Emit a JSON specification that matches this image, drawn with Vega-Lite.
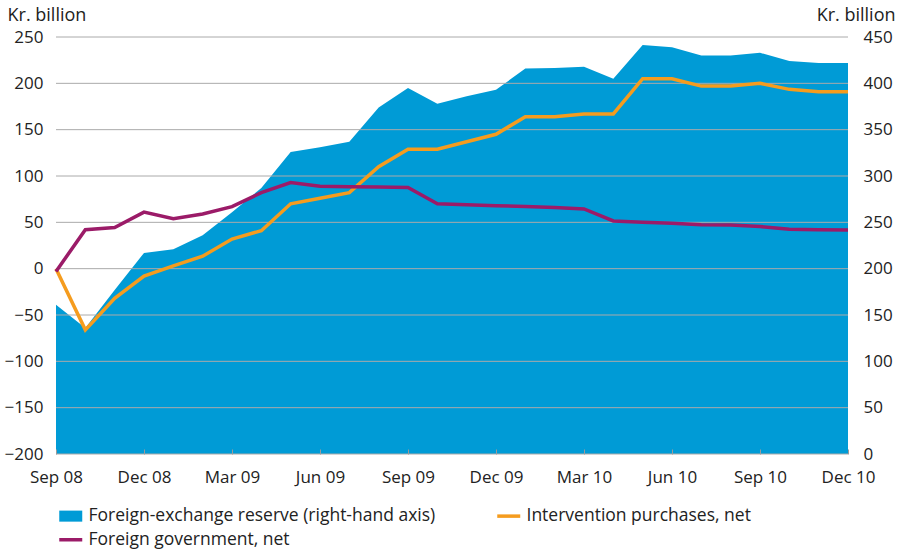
{
  "$schema": "https://vega.github.io/schema/vega-lite/v6.json",
  "width": 792,
  "height": 417,
  "autosize": "none",
  "padding": {"left": 56, "top": 37, "right": 51, "bottom": 97},
  "background": "white",
  "config": {
    "view": {"stroke": null},
    "font": "Open Sans",
    "axis": {"labelFont": "Open Sans", "titleFont": "Open Sans", "labelColor": "#222222", "titleColor": "#222222", "labelFontSize": 17, "titleFontSize": 18, "titleFontWeight": "normal"},
    "legend": {"labelFont": "Open Sans", "labelColor": "#222222", "labelFontSize": 17.5}
  },
  "data": {"values": [
    {"month": "Sep 08", "reserve": 161, "intervention": 0, "government": -3},
    {"month": "Oct 08", "reserve": 136, "intervention": -66, "government": 42},
    {"month": "Nov 08", "reserve": 177, "intervention": -32, "government": 44.5},
    {"month": "Dec 08", "reserve": 217, "intervention": -8, "government": 61},
    {"month": "Jan 09", "reserve": 221, "intervention": 3, "government": 54},
    {"month": "Feb 09", "reserve": 236, "intervention": 13.5, "government": 59},
    {"month": "Mar 09", "reserve": 261, "intervention": 32, "government": 67},
    {"month": "Apr 09", "reserve": 287, "intervention": 41, "government": 82},
    {"month": "May 09", "reserve": 326, "intervention": 70, "government": 93},
    {"month": "Jun 09", "reserve": 331, "intervention": 76, "government": 89},
    {"month": "Jul 09", "reserve": 337, "intervention": 82, "government": 88.5},
    {"month": "Aug 09", "reserve": 374, "intervention": 110, "government": 88},
    {"month": "Sep 09", "reserve": 395, "intervention": 129, "government": 87.5},
    {"month": "Oct 09", "reserve": 378, "intervention": 129, "government": 70},
    {"month": "Nov 09", "reserve": 386, "intervention": 137, "government": 69},
    {"month": "Dec 09", "reserve": 393, "intervention": 145, "government": 68},
    {"month": "Jan 10", "reserve": 416, "intervention": 164, "government": 67},
    {"month": "Feb 10", "reserve": 416.5, "intervention": 164, "government": 66},
    {"month": "Mar 10", "reserve": 418, "intervention": 167, "government": 64.5},
    {"month": "Apr 10", "reserve": 405, "intervention": 167, "government": 51.5},
    {"month": "May 10", "reserve": 441.5, "intervention": 205, "government": 50},
    {"month": "Jun 10", "reserve": 439, "intervention": 205, "government": 49},
    {"month": "Jul 10", "reserve": 430, "intervention": 197, "government": 47.5},
    {"month": "Aug 10", "reserve": 430, "intervention": 197, "government": 47},
    {"month": "Sep 10", "reserve": 433, "intervention": 200, "government": 45.5},
    {"month": "Oct 10", "reserve": 424, "intervention": 193.5, "government": 42.5},
    {"month": "Nov 10", "reserve": 422, "intervention": 191, "government": 42},
    {"month": "Dec 10", "reserve": 422, "intervention": 191, "government": 41.7}
  ]},
  "encoding": {
    "x": {
      "field": "month", "type": "ordinal", "sort": null,
      "scale": {"type": "point", "padding": 0},
      "axis": {
        "title": null, "labelAngle": 0, "domain": false, "grid": false,
        "values": ["Sep 08", "Dec 08", "Mar 09", "Jun 09", "Sep 09", "Dec 09", "Mar 10", "Jun 10", "Sep 10", "Dec 10"],
        "tickSize": -5, "tickColor": "#9a9a9a", "tickWidth": 1, "zindex": 1, "labelPadding": 20
      }
    }
  },
  "layer": [
    {
      "mark": {"type": "area", "opacity": 1, "interpolate": "linear"},
      "encoding": {
        "y": {
          "field": "reserve", "type": "quantitative",
          "scale": {"domain": [0, 450], "nice": false, "zero": true},
          "axis": {
            "orient": "right", "values": [0, 50, 100, 150, 200, 250, 300, 350, 400, 450],
            "grid": false, "domain": false, "ticks": false, "labelPadding": 15,
            "title": "Kr. billion", "titleAngle": 0, "titleX": 47, "titleY": -17,
            "titleAlign": "right", "titleBaseline": "alphabetic"
          }
        },
        "color": {
          "datum": "Foreign-exchange reserve (right-hand axis)",
          "scale": {
            "domain": ["Foreign-exchange reserve (right-hand axis)", "Foreign government, net", "Intervention purchases, net"],
            "range": ["#009bd6", "#9b1b68", "#f59c1e"]
          },
          "legend": {
            "title": null, "orient": "none", "legendX": 6, "legendY": 470, "columns": 2,
            "columnPadding": 54, "rowPadding": 5, "symbolSize": 529, "labelOffset": 9, "labelLimit": 0,
            "symbolOpacity": 1,
            "symbolType": {"expr": "datum.value === 'Foreign-exchange reserve (right-hand axis)' ? 'M-1,-0.48H1V0.48H-1Z' : 'stroke'"},
            "symbolStrokeWidth": {"expr": "datum.value === 'Foreign-exchange reserve (right-hand axis)' ? 0 : 3.5"},
            "symbolStrokeColor": {"expr": "scale('color', datum.value)"}
          }
        }
      }
    },
    {
      "layer": [
        {
          "data": {"values": [{"v": -200}, {"v": -150}, {"v": -100}, {"v": -50}, {"v": 0}, {"v": 50}, {"v": 100}, {"v": 150}, {"v": 200}, {"v": 250}]},
          "mark": {"type": "rule", "color": "#aaaaaa", "strokeWidth": 1},
          "encoding": {"y": {"field": "v", "type": "quantitative"}, "x": null}
        },
        {
          "mark": {"type": "line", "strokeWidth": 3.5, "color": "#f59c1e"},
          "encoding": {
            "y": {"field": "intervention", "type": "quantitative"}
          }
        },
        {
          "mark": {"type": "line", "strokeWidth": 3.5, "color": "#9b1b68"},
          "encoding": {
            "y": {"field": "government", "type": "quantitative"}
          }
        }
      ],
      "encoding": {
        "y": {
          "type": "quantitative",
          "scale": {"domain": [-200, 250], "nice": false, "zero": false},
          "axis": {
            "orient": "left", "values": [-200, -150, -100, -50, 0, 50, 100, 150, 200, 250],
            "grid": false, "domain": false, "ticks": false, "labelPadding": 13,
            "title": "Kr. billion", "titleAngle": 0, "titleX": -49, "titleY": -17,
            "titleAlign": "left", "titleBaseline": "alphabetic"
          }
        }
      }
    }
  ],
  "resolve": {"scale": {"y": "independent"}}
}
